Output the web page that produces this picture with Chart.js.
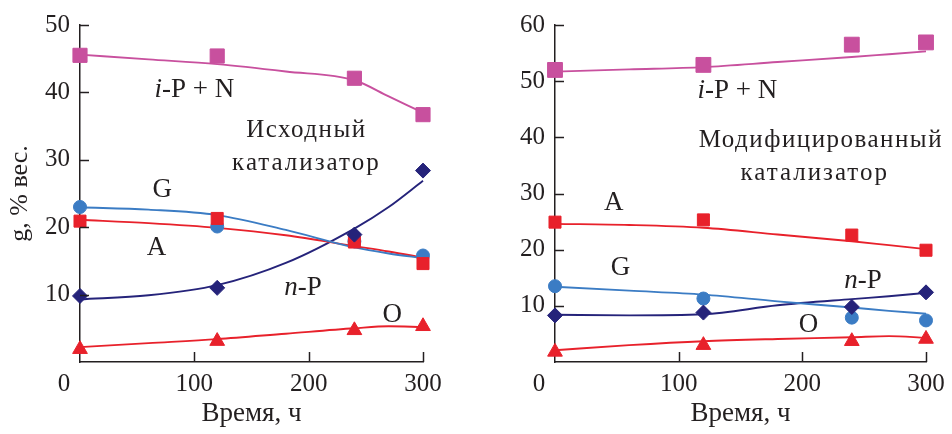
<!DOCTYPE html>
<html>
<head>
<meta charset="utf-8">
<script src="https://cdn.jsdelivr.net/npm/chart.js@4/dist/chart.umd.min.js"></script>
<style>
  html, body { margin: 0; padding: 0; background: #fff; }
  #wrap { position: relative; width: 952px; height: 434px; }
  .box { position: absolute; top: 0; width: 476px; height: 434px; }
</style>
</head>
<body>
<div id="wrap">
  <div class="box" style="left:0"><canvas id="left" width="476" height="434"></canvas></div>
  <div class="box" style="left:476px"><canvas id="right" width="476" height="434"></canvas></div>
</div>
<script>
// time of the measured points and of the read-off trend curves, h
const markTimes = [0, 120, 240, 300];
const curveTimes = [0, 60, 120, 180, 240, 270, 300];
const xTickValues = [0, 100, 200, 300];

// left panel: исходный катализатор
const baseIpnMarks = [45.5, 45.4, 42.1, 36.7];
const baseIpnCurve = [45.6, 44.9, 44.2, 43.1, 41.8, 39.4, 37.0];
const baseGMarks = [23.0, 20.1, 17.9, 15.8];
const baseGCurve = [22.95, 22.6, 21.8, 19.6, 17.0, 16.1, 15.4];
const baseAMarks = [20.9, 21.3, 17.8, 14.6];
const baseACurve = [21.1, 20.6, 19.9, 18.8, 17.2, 16.4, 15.5];
const baseNPMarks = [9.8, 11.0, 18.9, 28.4];
const baseNPCurve = [9.3, 9.9, 11.4, 14.7, 19.8, 23.0, 26.9];
const baseOMarks = [1.9, 3.1, 4.7, 5.3];
const baseOCurve = [2.2, 2.8, 3.4, 4.2, 5.0, 5.3, 5.2];

// right panel: модифицированный катализатор
const modIpnMarks = [52.0, 52.9, 56.5, 56.9];
const modIpnCurve = [51.7, 52.1, 52.5, 53.4, 54.3, 54.8, 55.3];
const modAMarks = [24.9, 25.3, 22.6, 19.9];
const modACurve = [24.6, 24.4, 23.9, 22.7, 21.5, 20.8, 20.1];
const modGMarks = [13.5, 11.3, 7.9, 7.4];
const modGCurve = [13.4, 12.7, 12.0, 10.8, 9.7, 9.1, 8.6];
const modNPMarks = [8.3, 8.8, 9.8, 12.4];
const modNPCurve = [8.4, 8.3, 8.5, 10.1, 11.2, 11.7, 12.3];
const modOMarks = [1.8, 3.0, 3.7, 4.1];
const modOCurve = [2.1, 3.0, 3.7, 4.1, 4.4, 4.6, 4.3];

const INK = '#231F20';
const SERIF = '"Liberation Serif", "DejaVu Serif", serif';
const MAGENTA = '#C8509E';
const RED = '#E8212B';
const BLUE = '#3B7CC4';
const NAVY = '#25237A';

function pts(times, values) {
  return times.map((t, i) => ({ x: t, y: values[i] }));
}

function marks(values, color, style, radius) {
  return {
    data: pts(markTimes, values),
    showLine: false,
    pointStyle: style,
    pointRadius: radius,
    backgroundColor: color,
    borderColor: color,
    borderWidth: 1,
    clip: false,
    order: 0
  };
}

function curve(values, color) {
  return {
    data: pts(curveTimes, values),
    showLine: true,
    pointRadius: 0,
    borderColor: color,
    borderWidth: 1.9,
    cubicInterpolationMode: 'monotone',
    clip: false,
    order: 1
  };
}

// text with an optional italic prefix, centred on (px, py)
function drawNote(ctx, px, py, note) {
  const parts = note.parts;
  ctx.letterSpacing = (note.spacing || 0) + 'px';
  let total = 0;
  const widths = parts.map(p => {
    ctx.font = (p.italic ? 'italic ' : '') + note.size + 'px ' + SERIF;
    const w = ctx.measureText(p.text).width;
    total += w;
    return w;
  });
  let cx = px - total / 2;
  ctx.textAlign = 'left';
  parts.forEach((p, i) => {
    ctx.font = (p.italic ? 'italic ' : '') + note.size + 'px ' + SERIF;
    ctx.fillText(p.text, cx, py);
    cx += widths[i];
  });
  ctx.letterSpacing = '0px';
}

const decor = {
  id: 'decor',
  afterDraw(chart, args, opts) {
    const { ctx, chartArea: area, scales: { x, y } } = chart;
    ctx.save();
    ctx.strokeStyle = INK;
    ctx.lineWidth = 1.5;
    // inward tick marks
    y.ticks.forEach(t => {
      if (t.value === 0) return;
      const py = Math.round(y.getPixelForValue(t.value)) + 0.5;
      ctx.beginPath();
      ctx.moveTo(area.left, py);
      ctx.lineTo(area.left + 9, py);
      ctx.stroke();
    });
    xTickValues.forEach(v => {
      if (v === 0) return;
      const px = Math.round(x.getPixelForValue(v)) + 0.5;
      ctx.beginPath();
      ctx.moveTo(px, area.bottom);
      ctx.lineTo(px, area.bottom - 10);
      ctx.stroke();
    });

    ctx.fillStyle = INK;
    ctx.textBaseline = 'middle';
    ctx.textAlign = 'center';
    ctx.font = '25px ' + SERIF;
    xTickValues.forEach(v => {
      let px = x.getPixelForValue(v);
      if (v === 0) px -= 16;
      ctx.fillText(String(v), px, 384);
    });
    ctx.font = '27px ' + SERIF;
    ctx.fillText('Время, ч', (area.left + area.right) / 2, 414);

    if (opts.yTitle) {
      ctx.save();
      ctx.font = '26px ' + SERIF;
      ctx.translate(20, (area.top + area.bottom) / 2);
      ctx.rotate(-Math.PI / 2);
      ctx.fillText(opts.yTitle, 0, 0);
      ctx.restore();
    }

    opts.notes.forEach(n => {
      drawNote(ctx, x.getPixelForValue(n.x), y.getPixelForValue(n.y), n);
    });
    ctx.restore();
  }
};

function makeChart(id, cfg) {
  return new Chart(document.getElementById(id), {
    type: 'scatter',
    data: { datasets: cfg.datasets },
    options: {
      responsive: false,
      devicePixelRatio: 1,
      animation: false,
      layout: { padding: { top: 20, right: cfg.padRight, left: 0, bottom: 0 } },
      plugins: {
        legend: { display: false },
        tooltip: { enabled: false },
        decor: { yTitle: cfg.yTitle, notes: cfg.notes }
      },
      scales: {
        x: {
          type: 'linear',
          min: 0,
          max: 300,
          grid: { display: false, drawTicks: false },
          border: { color: INK, width: 1.5 },
          ticks: { display: false, stepSize: 100 },
          afterFit(scale) { scale.height = 72; }
        },
        y: {
          min: 0,
          max: cfg.yMax,
          grid: { display: false, drawTicks: false },
          border: { color: INK, width: 1.5 },
          ticks: {
            stepSize: 10,
            padding: 10,
            color: INK,
            font: { family: SERIF, size: 25 },
            callback: v => (v === 0 ? '' : v)
          },
          afterFit(scale) { scale.width = cfg.axisWidth; }
        }
      }
    },
    plugins: [decor]
  });
}

makeChart('left', {
  yMax: 50,
  axisWidth: 80,
  padRight: 53,
  yTitle: 'g, % вес.',
  datasets: [
    marks(baseIpnMarks, MAGENTA, 'rect', 10),
    marks(baseNPMarks, NAVY, 'rectRot', 7.5),
    marks(baseAMarks, RED, 'rect', 8.5),
    marks(baseGMarks, BLUE, 'circle', 6.5),
    marks(baseOMarks, RED, 'triangle', 8.5),
    curve(baseIpnCurve, MAGENTA),
    curve(baseGCurve, BLUE),
    curve(baseACurve, RED),
    curve(baseNPCurve, NAVY),
    curve(baseOCurve, RED)
  ],
  notes: [
    { x: 100, y: 40.3, size: 27, parts: [{ text: 'i', italic: true }, { text: '-P + N' }] },
    { x: 198, y: 34.4, size: 25, spacing: 1.5, parts: [{ text: 'Исходный' }] },
    { x: 198, y: 29.5, size: 25, spacing: 2, parts: [{ text: 'катализатор' }] },
    { x: 72, y: 25.6, size: 27, parts: [{ text: 'G' }] },
    { x: 67, y: 17.0, size: 27, parts: [{ text: 'A' }] },
    { x: 195, y: 11.0, size: 27, parts: [{ text: 'n', italic: true }, { text: '-P' }] },
    { x: 273, y: 7.0, size: 27, parts: [{ text: 'O' }] }
  ]
});

makeChart('right', {
  yMax: 60,
  axisWidth: 79,
  padRight: 26,
  yTitle: null,
  datasets: [
    marks(modIpnMarks, MAGENTA, 'rect', 10.5),
    marks(modNPMarks, NAVY, 'rectRot', 7.5),
    marks(modAMarks, RED, 'rect', 8.5),
    marks(modGMarks, BLUE, 'circle', 6.5),
    marks(modOMarks, RED, 'triangle', 8.5),
    curve(modIpnCurve, MAGENTA),
    curve(modACurve, RED),
    curve(modGCurve, BLUE),
    curve(modNPCurve, NAVY),
    curve(modOCurve, RED)
  ],
  notes: [
    { x: 147.5, y: 48.2, size: 27, parts: [{ text: 'i', italic: true }, { text: '-P + N' }] },
    { x: 215, y: 39.5, size: 25, spacing: 1.5, parts: [{ text: 'Модифицированный' }] },
    { x: 210, y: 33.5, size: 25, spacing: 2, parts: [{ text: 'катализатор' }] },
    { x: 47.5, y: 28.4, size: 27, parts: [{ text: 'A' }] },
    { x: 53, y: 16.7, size: 27, parts: [{ text: 'G' }] },
    { x: 249, y: 14.5, size: 27, parts: [{ text: 'n', italic: true }, { text: '-P' }] },
    { x: 205, y: 6.6, size: 27, parts: [{ text: 'O' }] }
  ]
});
</script>
</body>
</html>
